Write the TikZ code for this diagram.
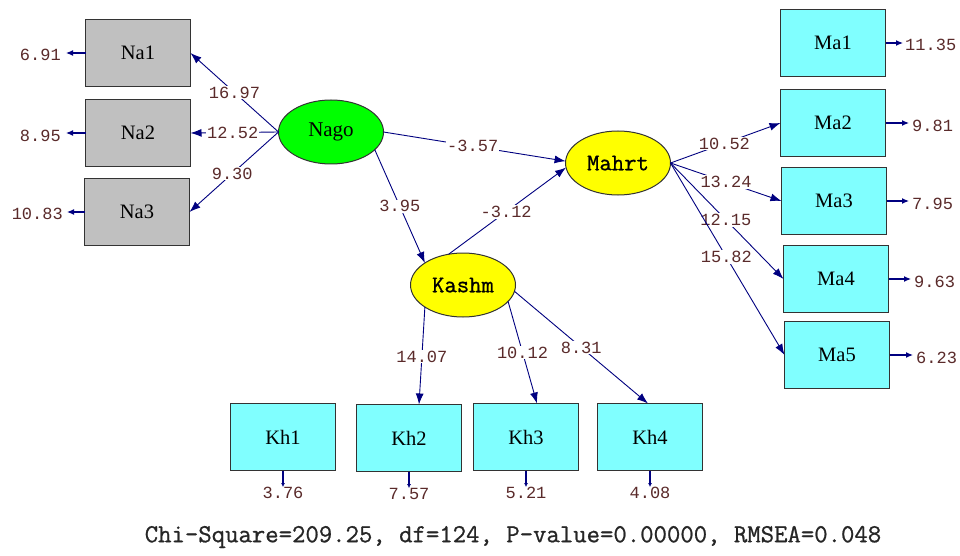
\documentclass[tikz,border=0pt]{standalone}
\usepackage{fontspec}
\setmainfont{Liberation Serif}
\newfontfamily\monof{Liberation Mono}
\newfontfamily\ttbold[FakeBold=0.8]{Latin Modern Mono}
\usetikzlibrary{shapes.geometric,arrows.meta}
\definecolor{navyc}{HTML}{000080}
\definecolor{lblc}{HTML}{5A2A2A}
\definecolor{cyanbox}{HTML}{80FFFF}
\definecolor{graybox}{HTML}{C0C0C0}
\definecolor{greenl}{HTML}{00FF00}
\definecolor{yellowl}{HTML}{FFFF00}
\begin{document}
\begin{tikzpicture}[x=1pt,y=-1pt,
  obs/.style={draw=black!80, line width=1.3pt, minimum width=105pt, minimum height=67pt,
    inner sep=0pt, outer sep=0pt, font=\fontsize{20.5}{20.5}\selectfont},
  lat/.style={ellipse, draw=black!80, line width=1pt, minimum width=105pt, minimum height=64pt,
    inner sep=0pt, outer sep=0pt},
  pth/.style={draw=navyc, line width=0.9pt, -{Latex[length=11pt,width=8pt]}},
  resid/.style={draw=navyc, line width=1.2pt, -{Latex[length=7pt,width=6pt]}},
  lbl/.style={fill=white, inner sep=1pt, text=lblc, font=\monof\fontsize{17}{17}\selectfont},
  num/.style={inner sep=0pt, text=lblc, font=\monof\fontsize{17}{17}\selectfont}
]
\useasboundingbox (0,0) rectangle (960,556);
\fill[white] (0,0) rectangle (960,556);

% observed boxes
\node[obs, fill=graybox] (na1) at (138,53) {Na1};
\node[obs, fill=graybox] (na2) at (138,133) {Na2};
\node[obs, fill=graybox] (na3) at (137,212) {Na3};
\node[obs, fill=cyanbox] (ma1) at (833,43) {Ma1};
\node[obs, fill=cyanbox] (ma2) at (833,123) {Ma2};
\node[obs, fill=cyanbox] (ma3) at (834,201) {Ma3};
\node[obs, fill=cyanbox] (ma4) at (836,279) {Ma4};
\node[obs, fill=cyanbox] (ma5) at (837,355) {Ma5};
\node[obs, fill=cyanbox] (kh1) at (283,437) {Kh1};
\node[obs, fill=cyanbox] (kh2) at (409,438) {Kh2};
\node[obs, fill=cyanbox] (kh3) at (526,437) {Kh3};
\node[obs, fill=cyanbox] (kh4) at (650,437) {Kh4};

% latent ellipses
\node[lat, fill=greenl, font=\fontsize{21}{21}\selectfont] (nago) at (331,132) {Nago};
\node[lat, fill=yellowl, font=\ttbold\fontsize{24}{24}\selectfont] (mahrt) at (618,163) {Mahrt};
\node[lat, fill=yellowl, font=\ttbold\fontsize{24}{24}\selectfont] (kashm) at (463,285) {Kashm};

% paths
\draw[pth] (nago.west) -- (na1.east) node[lbl, pos=0.5] {16.97};
\draw[pth] (nago.west) -- (na2.east) node[lbl, pos=0.52] {12.52};
\draw[pth] (nago.west) -- (na3.east) node[lbl, pos=0.52] {9.30};
\draw[pth] (nago.east) -- (mahrt.178) node[lbl, pos=0.49] {-3.57};
\draw[pth] (nago.-22) -- (kashm.150) node[lbl, pos=0.5] {3.95};
\draw[pth] (kashm.115) -- (mahrt.185) node[lbl, pos=0.49] {-3.12};
\draw[pth] (mahrt.east) -- (ma2.west) node[lbl, pos=0.49] {10.52};
\draw[pth] (mahrt.east) -- (ma3.west) node[lbl, pos=0.5] {13.24};
\draw[pth] (mahrt.east) -- (ma4.west) node[lbl, pos=0.49] {12.15};
\draw[pth] (mahrt.east) -- (ma5.west) node[lbl, pos=0.49] {15.82};
\draw[pth] (kashm.210) -- ([xshift=10pt]kh2.north) node[lbl, pos=0.51] {14.07};
\draw[pth] (kashm.-20) -- ([xshift=11pt]kh3.north) node[lbl, pos=0.5] {10.12};
\draw[pth] (kashm.-7) -- ([xshift=-2pt]kh4.north) node[lbl, pos=0.5] {8.31};

% residual numbers
\node[num, anchor=east] (ena1) at (61,55) {6.91};
\node[num, anchor=east] (ena2) at (61,136) {8.95};
\node[num, anchor=east] (ena3) at (63,214) {10.83};
\node[num, anchor=west] (ema1) at (905,45) {11.35};
\node[num, anchor=west] (ema2) at (912,126) {9.81};
\node[num, anchor=west] (ema3) at (912,204) {7.95};
\node[num, anchor=west] (ema4) at (914,282) {9.63};
\node[num, anchor=west] (ema5) at (916,358) {6.23};
\node[num] (ekh1) at (283,493) {3.76};
\node[num] (ekh2) at (409,494) {7.57};
\node[num] (ekh3) at (526,493) {5.21};
\node[num] (ekh4) at (650,493) {4.08};

\draw[resid] (na1.west) -- ([xshift=5pt]ena1.east |- na1.west);
\draw[resid] (na2.west) -- ([xshift=5pt]ena2.east |- na2.west);
\draw[resid] (na3.west) -- ([xshift=4pt]ena3.east |- na3.west);
\draw[resid] (ma1.east) -- ([xshift=-2pt]ema1.west |- ma1.east);
\draw[resid] (ma2.east) -- ([xshift=-3pt]ema2.west |- ma2.east);
\draw[resid] (ma3.east) -- ([xshift=-3pt]ema3.west |- ma3.east);
\draw[resid] (ma4.east) -- ([xshift=-3pt]ema4.west |- ma4.east);
\draw[resid] (ma5.east) -- ([xshift=-3pt]ema5.west |- ma5.east);
\draw[resid, -{Latex[length=4pt,width=4pt]}] (kh1.south) -- (kh1.south |- ekh1.north) ;
\draw[resid, -{Latex[length=4pt,width=4pt]}] (kh2.south) -- (kh2.south |- ekh2.north) ;
\draw[resid, -{Latex[length=4pt,width=4pt]}] (kh3.south) -- (kh3.south |- ekh3.north) ;
\draw[resid, -{Latex[length=4pt,width=4pt]}] (kh4.south) -- (kh4.south |- ekh4.north) ;

% fit statistics
\node[inner sep=0pt, font=\ttbold\fontsize{26}{26}\selectfont, text=black!85] (chi) at (513,537)
  {Chi-Square=209.25, df=124, P-value=0.00000, RMSEA=0.048};
\end{tikzpicture}
\end{document}
